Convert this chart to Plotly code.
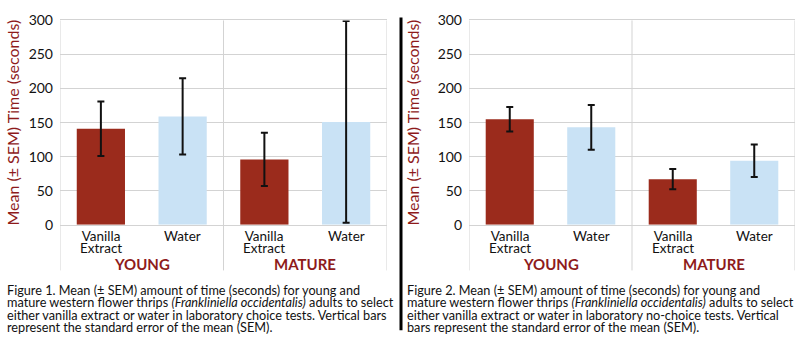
import plotly.graph_objects as go

categories = ["Vanilla\nExtract", "Water", "Vanilla\nExtract", "Water"]
groups = ["YOUNG", "MATURE"]
fig1_means = [141, 159, 96, 151]
fig1_sem = [40, 56, 39, 148]
fig2_means = [155, 143, 67, 94]
fig2_sem = [18, 33, 15, 24]
y_ticks = [0, 50, 100, 150, 200, 250, 300]
captions = [
    ["Figure 1. Mean (± SEM) amount of time (seconds) for young and",
     "mature western flower thrips <i>(Frankliniella occidentalis)</i> adults to select",
     "either vanilla extract or water in laboratory choice tests. Vertical bars",
     "represent the standard error of the mean (SEM)."],
    ["Figure 2. Mean (± SEM) amount of time (seconds) for young and",
     "mature western flower thrips <i>(Frankliniella occidentalis)</i> adults to select",
     "either vanilla extract or water in laboratory no-choice tests. Vertical",
     "bars represent the standard error of the mean (SEM)."],
]

W, H = 800, 344
FONT = "Lato"
RED = "#8e1b1b"
BAR_COLORS = ["#9b2b1c", "#c9e2f5", "#9b2b1c", "#c9e2f5"]
GRID = "#d3d3d3"

def py(px):
    return 1 - px / H

def tight(lines, size, spacing):
    """Multi-line text whose line pitch is `spacing` px while glyphs are `size` px."""
    body = "<br>".join('<span style="font-size:%gpx">%s</span>' % (size, l) for l in lines)
    return body, spacing / 1.3

y_bottom_px, y_top_px = 227, 12
ydom = [py(y_bottom_px), py(y_top_px)]
xdoms = [[60 / W, 387 / W], [469 / W, 795 / W]]
xpos = list(range(len(categories)))

fig = go.Figure()
for i, (means, sem) in enumerate([(fig1_means, fig1_sem), (fig2_means, fig2_sem)]):
    sfx = "" if i == 0 else "2"
    fig.add_trace(go.Bar(
        x=xpos, y=means, width=0.59,
        marker=dict(color=BAR_COLORS, line=dict(width=0)),
        error_y=dict(type="data", array=sem, color="#111111", thickness=2, width=3.5),
        xaxis="x" + sfx, yaxis="y" + sfx, showlegend=False, hoverinfo="y",
    ))
    xa = dict(domain=xdoms[i], range=[-0.5, 3.5], showticklabels=False,
              showgrid=False, zeroline=False, showline=True, mirror=True, linecolor=GRID,
              linewidth=1, ticks="", anchor="y" + sfx, fixedrange=True)
    ya = dict(domain=ydom, range=[0, 300], tickvals=y_ticks, showgrid=True, gridcolor=GRID,
              gridwidth=1, zeroline=False, showline=False, ticks="", ticklabelstandoff=6,
              tickfont=dict(family=FONT, size=14, color="#111"), anchor="x" + sfx,
              fixedrange=True)
    fig.update_layout(**{"xaxis" + sfx: xa, "yaxis" + sfx: ya})

    # category labels
    for xv, lab in zip(xpos, categories):
        txt, base = tight(lab.split("\n"), 13.5, 11.5)
        fig.add_annotation(text=txt, xref="x" + sfx, yref="paper", x=xv,
                           y=py(228.5), yanchor="top", showarrow=False,
                           font=dict(family=FONT, size=base, color="#111"))
    # vertical separators (left, middle, right) extending below plot
    for xv in [-0.5, 1.5, 3.5]:
        fig.add_shape(type="line", xref="x" + sfx, yref="paper", x0=xv, x1=xv,
                      y0=py(275), y1=ydom[1], line=dict(color=GRID, width=1), layer="below")
    # group labels
    for g, gx in zip(groups, [0.5, 2.5]):
        fig.add_annotation(text="<b>" + g + "</b>", xref="x" + sfx, yref="paper", x=gx,
                           y=py(268), showarrow=False, yanchor="middle",
                           font=dict(family=FONT, size=15, color=RED))
    # y-axis title
    fig.add_annotation(text="Mean (± SEM) Time (seconds)", xref="paper", yref="paper",
                       x=(13 if i == 0 else 413) / W, y=(ydom[0] + ydom[1]) / 2, textangle=-90,
                       xanchor="center", yanchor="middle",
                       showarrow=False, font=dict(family=FONT, size=16, color=RED))
    # caption
    txt, base = tight(captions[i], 12.7, 12.4)
    fig.add_annotation(text=txt, xref="paper", yref="paper",
                       x=(5 if i == 0 else 405) / W, y=py(285.5), xanchor="left",
                       yanchor="top", align="left", showarrow=False,
                       font=dict(family=FONT, size=base, color="#111"))

# black divider between figures
fig.add_shape(type="line", xref="paper", yref="paper", x0=401 / W, x1=401 / W,
              y0=py(338), y1=py(9), line=dict(color="#000", width=3))

fig.update_layout(width=W, height=H, margin=dict(l=0, r=0, t=0, b=0),
                  paper_bgcolor="white", plot_bgcolor="white")
fig.write_html("out.html")
